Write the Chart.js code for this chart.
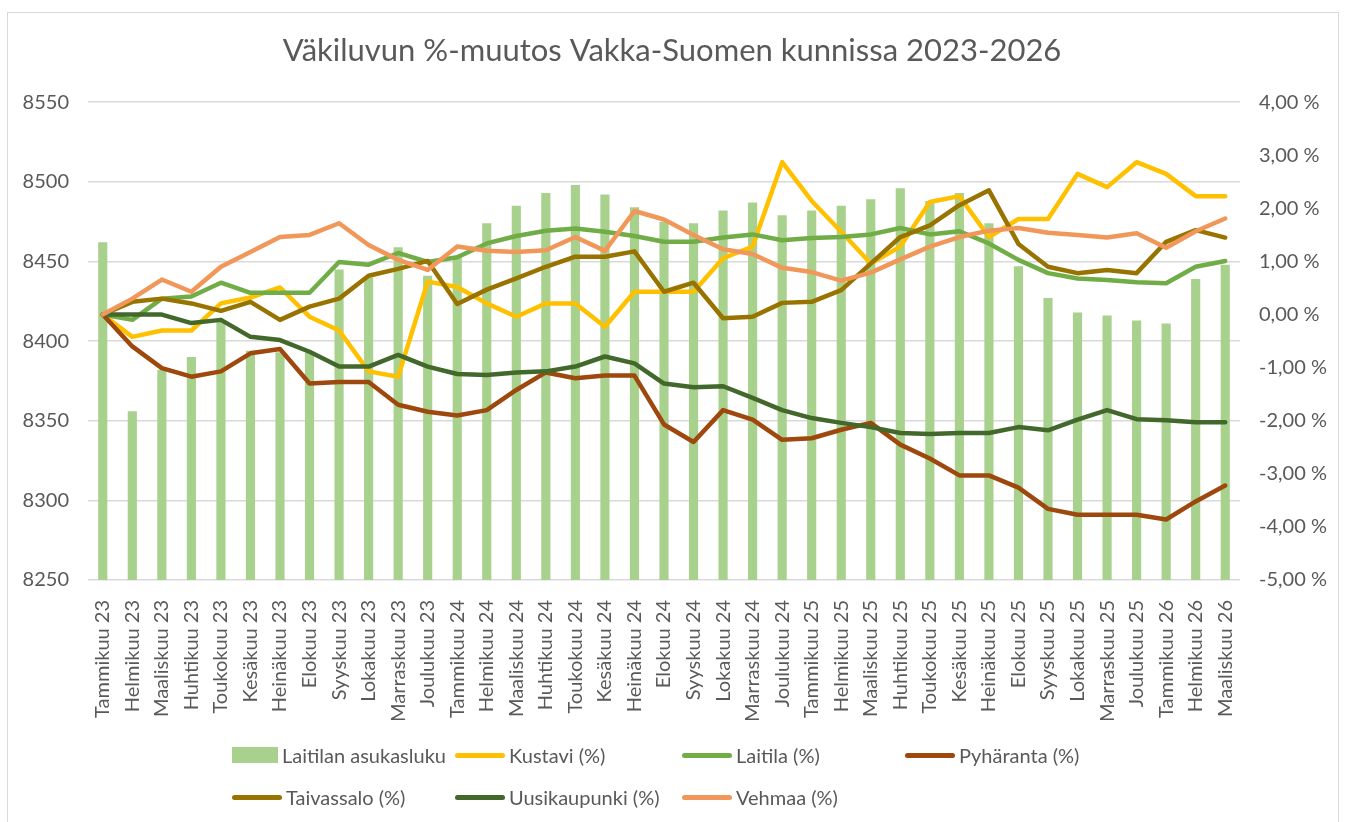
<!DOCTYPE html>
<html lang="fi">
<head>
<meta charset="utf-8">
<title>Väkiluvun %-muutos Vakka-Suomen kunnissa 2023-2026</title>
<script src="https://cdn.jsdelivr.net/npm/chart.js@4/dist/chart.umd.min.js"></script>
<style>
  html, body { margin: 0; padding: 0; background: #fff; overflow: hidden; }
  #kehys { position: absolute; left: 7px; top: 12px; width: 1332px; height: 840px; border: 1px solid #d9d9d9; box-sizing: border-box; }
  #kuvaaja { position: absolute; left: 0; top: 0; }
  #selite { position: absolute; left: 0; top: 0; font-family: Lato, sans-serif; font-size: 20px; color: #595959; }
  .kohta { position: absolute; height: 24px; display: flex; align-items: center; white-space: nowrap; }
  .merkki { display: inline-block; margin-right: 4px; }
</style>
</head>
<body>
<div id="kehys"></div>
<canvas id="kuvaaja" width="1346" height="822"></canvas>
<div id="selite"></div>
<script>
const kuukaudet = [
  'Tammikuu 23', 'Helmikuu 23', 'Maaliskuu 23', 'Huhtikuu 23', 'Toukokuu 23', 'Kesäkuu 23',
  'Heinäkuu 23', 'Elokuu 23', 'Syyskuu 23', 'Lokakuu 23', 'Marraskuu 23', 'Joulukuu 23',
  'Tammikuu 24', 'Helmikuu 24', 'Maaliskuu 24', 'Huhtikuu 24', 'Toukokuu 24', 'Kesäkuu 24',
  'Heinäkuu 24', 'Elokuu 24', 'Syyskuu 24', 'Lokakuu 24', 'Marraskuu 24', 'Joulukuu 24',
  'Tammikuu 25', 'Helmikuu 25', 'Maaliskuu 25', 'Huhtikuu 25', 'Toukokuu 25', 'Kesäkuu 25',
  'Heinäkuu 25', 'Elokuu 25', 'Syyskuu 25', 'Lokakuu 25', 'Marraskuu 25', 'Joulukuu 25',
  'Tammikuu 26', 'Helmikuu 26', 'Maaliskuu 26'
];

// Laitilan asukasluku (vasen akseli)
const laitilanAsukasluku = [
  8462, 8356, 8382, 8390, 8412, 8394, 8393, 8393, 8445, 8440, 8459, 8441,
  8453, 8474, 8485, 8493, 8498, 8492, 8484, 8475, 8474, 8482, 8487, 8479,
  8482, 8485, 8489, 8496, 8488, 8493, 8474, 8447, 8427, 8418, 8416, 8413,
  8411, 8439, 8448
];

// muutos-% (oikea akseli)
const kustavi = [
  0, -0.42, -0.3, -0.3, 0.21, 0.32, 0.51, -0.04, -0.3, -1.07, -1.17, 0.62,
  0.52, 0.21, -0.04, 0.21, 0.21, -0.23, 0.43, 0.43, 0.43, 1.06, 1.28, 2.87,
  2.14, 1.56, 0.96, 1.28, 2.12, 2.23, 1.46, 1.8, 1.8, 2.65, 2.4, 2.87,
  2.65, 2.23, 2.23
];
const laitila = [
  0, -0.1, 0.3, 0.34, 0.6, 0.41, 0.41, 0.41, 0.99, 0.94, 1.16, 0.99,
  1.08, 1.34, 1.48, 1.58, 1.62, 1.56, 1.48, 1.37, 1.37, 1.45, 1.51, 1.4,
  1.44, 1.46, 1.51, 1.63, 1.51, 1.57, 1.34, 1.03, 0.78, 0.68, 0.65, 0.61,
  0.59, 0.9, 1.01
];
const pyharanta = [
  0, -0.6, -1.01, -1.17, -1.07, -0.73, -0.65, -1.3, -1.27, -1.27, -1.7, -1.83,
  -1.9, -1.8, -1.42, -1.09, -1.2, -1.15, -1.15, -2.07, -2.4, -1.8, -1.98, -2.36,
  -2.33, -2.17, -2.04, -2.45, -2.71, -3.03, -3.03, -3.26, -3.66, -3.77, -3.77, -3.77,
  -3.86, -3.52, -3.22
];
const taivassalo = [
  0, 0.24, 0.3, 0.21, 0.07, 0.24, -0.1, 0.15, 0.3, 0.73, 0.86, 1.01,
  0.2, 0.47, 0.68, 0.9, 1.09, 1.09, 1.19, 0.43, 0.6, -0.07, -0.04, 0.22,
  0.24, 0.46, 0.96, 1.46, 1.68, 2.06, 2.34, 1.33, 0.9, 0.78, 0.84, 0.78,
  1.37, 1.59, 1.45
];
const uusikaupunki = [
  0, 0, 0, -0.16, -0.1, -0.42, -0.48, -0.7, -0.98, -0.98, -0.76, -0.98,
  -1.12, -1.14, -1.09, -1.07, -0.98, -0.79, -0.92, -1.3, -1.37, -1.35, -1.57, -1.8,
  -1.95, -2.04, -2.12, -2.23, -2.25, -2.23, -2.23, -2.12, -2.18, -1.98, -1.8, -1.97,
  -1.99, -2.03, -2.03
];
const vehmaa = [
  0, 0.3, 0.66, 0.43, 0.9, 1.18, 1.46, 1.5, 1.72, 1.31, 1.03, 0.84,
  1.28, 1.2, 1.18, 1.21, 1.46, 1.2, 1.95, 1.79, 1.5, 1.23, 1.14, 0.88,
  0.8, 0.64, 0.79, 1.04, 1.28, 1.46, 1.58, 1.63, 1.54, 1.5, 1.45, 1.53,
  1.26, 1.57, 1.81
];

const tekstinVari = '#595959';
const fontti = 'Lato, sans-serif';

function viiva(nimi, data, vari, jarjestys) {
  return {
    type: 'line',
    label: nimi,
    data: data,
    yAxisID: 'y1',
    borderColor: vari,
    backgroundColor: vari,
    borderWidth: 4.5,
    borderJoinStyle: 'round',
    borderCapStyle: 'round',
    pointRadius: 0,
    tension: 0,
    order: jarjestys
  };
}

const ctx = document.getElementById('kuvaaja').getContext('2d');
const kaavio = new Chart(ctx, {
  data: {
    labels: kuukaudet,
    datasets: [
      {
        type: 'bar',
        label: 'Laitilan asukasluku',
        data: laitilanAsukasluku,
        yAxisID: 'y',
        backgroundColor: '#a9d18e',
        categoryPercentage: 1,
        barPercentage: 0.31,
        order: 100
      },
      viiva('Kustavi (%)', kustavi, '#ffc000', 7),
      viiva('Laitila (%)', laitila, '#70ad47', 6),
      viiva('Pyhäranta (%)', pyharanta, '#9e480e', 5),
      viiva('Taivassalo (%)', taivassalo, '#997300', 4),
      viiva('Uusikaupunki (%)', uusikaupunki, '#43682b', 3),
      viiva('Vehmaa (%)', vehmaa, '#f1975a', 2)
    ]
  },
  options: {
    responsive: false,
    animation: false,
    layout: { padding: { left: 8, right: 10, top: 12, bottom: 102 } },
    plugins: {
      legend: { display: false },
      tooltip: { enabled: false },
      title: {
        display: true,
        text: 'Väkiluvun %-muutos Vakka-Suomen kunnissa 2023-2026',
        color: tekstinVari,
        font: { family: fontti, size: 31, weight: 'normal' },
        padding: { top: 20, bottom: 33 }
      }
    },
    scales: {
      x: {
        offset: true,
        grid: { display: false },
        border: { display: false },
        ticks: {
          color: tekstinVari,
          font: { family: fontti, size: 20 },
          autoSkip: false,
          minRotation: 90,
          maxRotation: 90,
          padding: 12
        },
        afterFit: s => { s.height = 140; }
      },
      y: {
        position: 'left',
        min: 8250,
        max: 8550,
        ticks: {
          stepSize: 50,
          color: tekstinVari,
          font: { family: fontti, size: 20 },
          padding: 19,
          callback: v => String(v)
        },
        grid: { color: '#d9d9d9', lineWidth: 1.5, drawTicks: false },
        border: { display: false },
        afterFit: s => { s.width = 80; }
      },
      y1: {
        position: 'right',
        min: -5,
        max: 4,
        ticks: {
          stepSize: 1,
          color: tekstinVari,
          font: { family: fontti, size: 20 },
          padding: 19,
          callback: v => v.toFixed(2).replace('.', ',') + ' %'
        },
        grid: { display: false, drawTicks: false },
        border: { display: false },
        afterFit: s => { s.width = 96; }
      }
    }
  }
});

// selite HTML:nä, Excelin kaltaisessa ruudukossa
const selitePaikat = [
  [232, 743], [455, 743], [682, 743], [905, 743],
  [232, 785], [455, 785], [682, 785]
];
const selite = document.getElementById('selite');
kaavio.data.datasets.forEach((ds, i) => {
  const kohta = document.createElement('div');
  kohta.className = 'kohta';
  kohta.style.left = selitePaikat[i][0] + 'px';
  kohta.style.top = selitePaikat[i][1] + 'px';
  const merkki = document.createElement('span');
  merkki.className = 'merkki';
  if (ds.type === 'bar') {
    merkki.style.cssText = `width:46px;height:16px;background:${ds.backgroundColor}`;
  } else {
    merkki.style.cssText = `width:50px;height:5px;border-radius:3px;background:${ds.borderColor}`;
  }
  kohta.appendChild(merkki);
  kohta.appendChild(document.createTextNode(ds.label));
  selite.appendChild(kohta);
});
</script>
</body>
</html>
